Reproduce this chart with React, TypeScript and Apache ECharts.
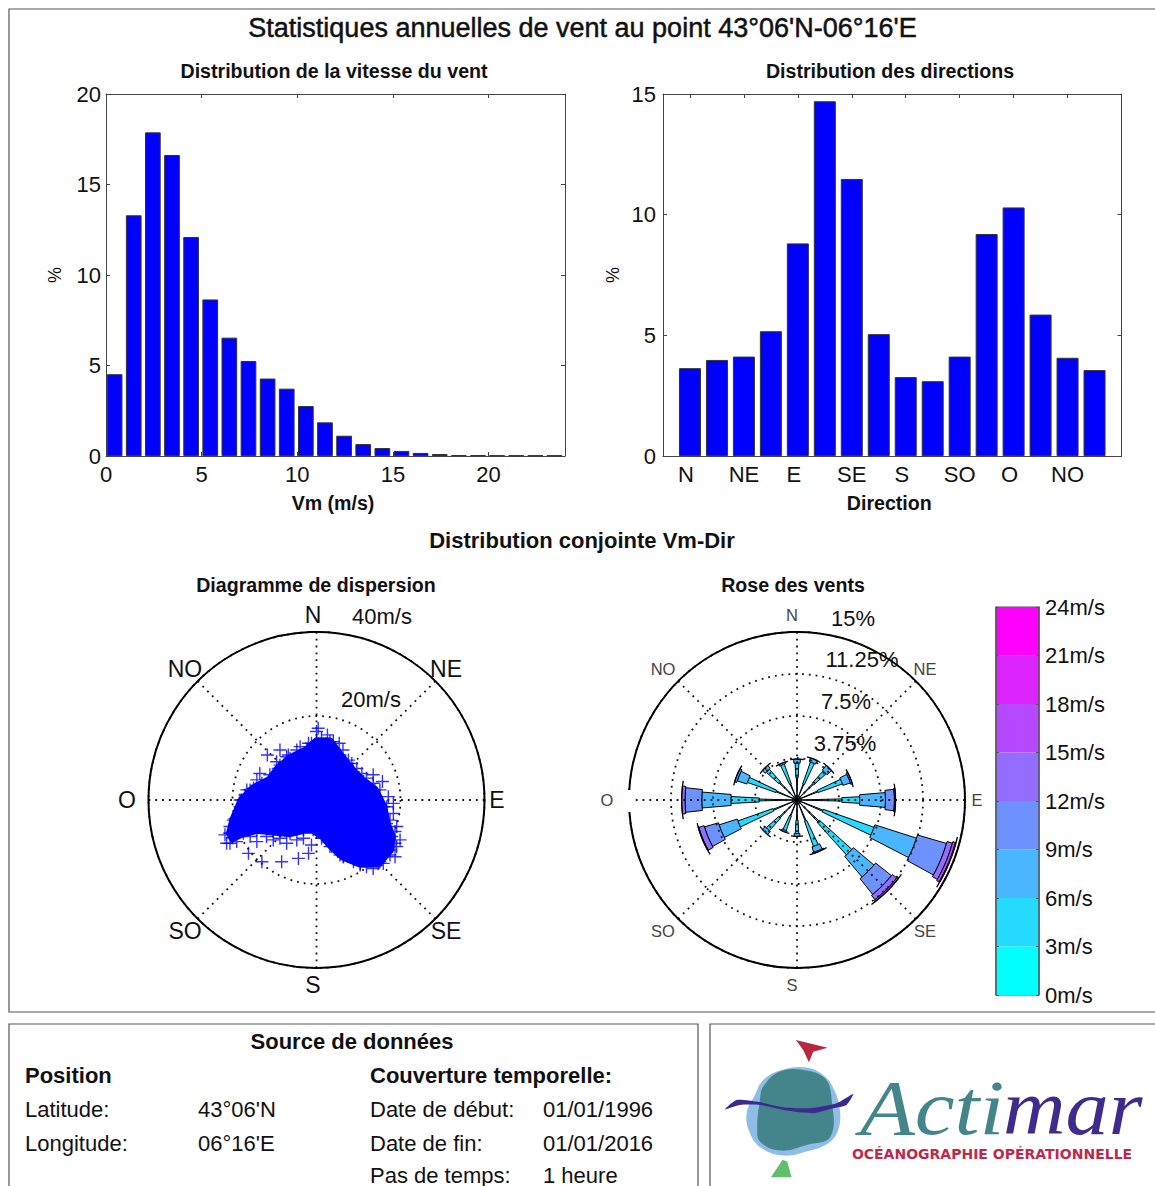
import React, { useEffect, useRef } from "react";
import * as echarts from "echarts";

const FONT = '"Liberation Sans"';
const AXIS = "#444";
const BLUE = "#0000ff";

const speedBins = [0.45, 1.45, 2.45, 3.45, 4.45, 5.45, 6.45, 7.45, 8.45, 9.45, 10.45, 11.45, 12.45, 13.45, 14.45, 15.45, 16.45, 17.45, 18.45, 19.45, 20.45, 21.45, 22.45, 23.45];
const speedPercent = [4.52, 13.3, 17.88, 16.63, 12.1, 8.65, 6.54, 5.25, 4.28, 3.72, 2.76, 1.86, 1.12, 0.66, 0.44, 0.28, 0.17, 0.11, 0.05, 0.04, 0.03, 0.03, 0.03, 0.03];
const dirIndex = [1, 2, 3, 4, 5, 6, 7, 8, 9, 10, 11, 12, 13, 14, 15, 16];
const dirPercent = [3.64, 3.98, 4.12, 5.17, 8.81, 14.7, 11.48, 5.05, 3.27, 3.1, 4.12, 9.2, 10.3, 5.86, 4.07, 3.56];
const dirTicks = [1, 3, 5, 7, 9, 11, 13, 15];
const dirTickLabels = ["N", "NE", "E", "SE", "S", "SO", "O", "NO"];

// outline of the dense cloud, [east, north] in m/s
const cloudOutline = [[0, 13.9], [3.2, 13.9], [5.6, 10.7], [8.8, 6.7], [11.2, 4.4], [13.9, 2.4], [15.9, -1.6], [16.7, -5.6], [17.9, -8.7], [17.5, -11.9], [14.7, -15.1], [10.4, -15.1], [6.4, -13.5], [3.6, -11], [1.6, -8.7], [-0.8, -7.1], [-3.1, -7.1], [-6.3, -7.9], [-10.3, -7.5], [-14.2, -7.1], [-17.4, -7.9], [-20, -9], [-20.6, -7.9], [-19.8, -4.8], [-17.8, 0], [-15, 2.8], [-11.1, 4.8], [-9.1, 7.5], [-6.3, 9.9], [-2.3, 11.9]];
// individual visible crosses, [east, north] in m/s
const cloudPoints = [[0.4, 17.1], [2.6, 15.5], [0, 16.3], [5.4, 13.5], [-1.9, 13.5], [-4.7, 11.9], [-8.7, 11.9], [-11.7, 10.7], [-9.5, 9.1], [-7.1, 10.3], [7.6, 9.5], [9.6, 7.5], [13.5, 6], [15.7, 4.4], [11.9, 5.2], [17.1, 0.8], [18.3, -0.8], [18.3, -3.2], [19.1, -6.3], [19.9, -9.5], [19.1, -11.1], [18.7, -13.5], [15.9, -15.1], [13.5, -16.3], [10.4, -15.5], [6.4, -13.5], [-21.8, -8.3], [-20.6, -10.3], [-14.2, -9.9], [-16.2, -12.7], [-13, -14.7], [-8.3, -14.7], [-4.3, -13.9], [-1.9, -12.7], [-1.2, -10.7], [-7.1, -10.3], [-10.3, -9.5], [-13.5, 6.3], [-14.2, 4.8], [-16.6, 2.4], [-18.2, 0], [-20.6, -6.3]];
const cloudEdgePoints = [[-20.6, -7.9], [-19.4, -4.4], [-18.2, -1.6], [-17, 1.2], [-15.8, 2.4], [-13, 4], [-11.1, 6], [-8.7, 8.3], [-6.7, 10.7], [-3.9, 12.7], [-1.2, 13.5], [1.2, 14.7], [4, 13.9], [6.3, 11.9], [8.4, 8.7], [10.8, 6.3], [13.5, 4], [15.1, 2.4], [16.7, -1.6], [17.5, -4.8], [18.7, -7.5], [18.7, -10.3], [17.5, -13.1], [15.1, -14.7], [11.9, -15.9], [8.8, -14.7], [5.6, -13.1], [3.2, -11.1], [1.2, -9.1], [-3.1, -9.1], [-4.7, -9.5], [-8.7, -9.1], [-11.9, -8.7], [-15.8, -8.7], [-19, -9.9], [-21.4, -10.3]];

// wind rose: direction (deg) and cumulated percentage at the end of each speed class
const roseDirections = [0, 22.5, 45, 67.5, 90, 112.5, 135, 157.5, 180, 202.5, 225, 247.5, 270, 292.5, 315, 337.5];
const roseCumul = [
  [2.0, 3.3, 3.65], [1.5, 3.6, 3.95], [2.0, 3.5, 4.05], [2.0, 4.3, 5.0, 5.15],
  [4.0, 5.6, 7.9, 8.7, 8.8], [2.5, 7.3, 11.2, 13.9, 14.4, 14.65, 14.7], [2.7, 6.6, 9.0, 10.8, 11.3, 11.45], [2.0, 4.4, 4.9, 5.0],
  [1.8, 3.0, 3.25], [1.5, 2.9, 3.05], [2.2, 3.7, 4.05], [2.3, 5.6, 7.3, 8.6, 9.1, 9.15],
  [3.35, 5.9, 8.5, 10.0, 10.3], [2.0, 4.7, 5.6, 5.8], [2.2, 3.7, 4.05], [1.5, 3.4, 3.55],
];
const classColors = ["#00ffff", "#24dbff", "#49b6ff", "#6d92ff", "#926dff", "#b649ff", "#db24ff", "#ff00ff"];
const classStep = [3, 3, 3, 3, 3, 3, 3, 3];
const classHalfAngle = [1.4, 3, 4.8, 6.3, 7, 7.5, 7.5, 7.5];
const CAP_HALF = 9.5;

const SCATTER_C = [316.5, 800];
const ROSE_C = [797, 800];
const R = 168;

const toPolar = ([e, n]: number[]) => {
  const a = (Math.atan2(e, n) * 180) / Math.PI;
  return [Math.hypot(e, n), a < 0 ? a + 360 : a];
};

const txt = (text: string, x: number, y: number, fontSize: number, extra: any = {}) => ({
  type: "text",
  x,
  y,
  silent: true,
  z: 20,
  style: {
    text,
    fontFamily: FONT,
    fontSize,
    fontWeight: extra.bold ? "bold" : "normal",
    fill: extra.fill || "#111",
    stroke: extra.stroke,
    lineWidth: extra.stroke ? 0.5 : 0,
    textAlign: extra.align || "center",
    textVerticalAlign: "middle",
  },
});

const boxAxisCommon = (min: number, max: number) => ({
  type: "value",
  min,
  max,
  splitLine: { show: false },
  axisLine: { show: true, onZero: false, lineStyle: { color: AXIS, width: 1 } },
  axisTick: { show: true, inside: true, length: 4, lineStyle: { color: AXIS } },
});

const tickLabel = { color: "#111", fontFamily: FONT, fontSize: 22 };
const nameStyle = { color: "#111", fontFamily: FONT, fontSize: 19.6, fontWeight: "bold" };
const percentStyle = { color: "#111", fontFamily: FONT, fontSize: 18 };

function buildOption() {
  const cloudPolar = cloudOutline.map(toPolar);
  const scatterData = [...cloudOutline, ...cloudPoints, ...cloudEdgePoints].map(toPolar);
  const roseRows: number[][] = [];
  const capRows: number[][] = [];
  roseDirections.forEach((dir, i) => {
    let r0 = 0;
    roseCumul[i].forEach((r1, band) => {
      roseRows.push([dir, band, r0, r1]);
      r0 = r1;
    });
    capRows.push([dir, r0]);
  });
  const arc = (api: any, dir: number, half: number, r: number, n = 6) => {
    const pts: number[][] = [];
    for (let k = 0; k <= n; k++) pts.push(api.coord([r, dir - half + (2 * half * k) / n]));
    return pts;
  };

  const polarAxes = (polarIndex: number, rMax: number, rStep: number, z: number) => ({
    angle: {
      polarIndex,
      type: "value",
      min: 0,
      max: 360,
      interval: 45,
      startAngle: 90,
      z,
      axisLabel: { show: false },
      axisTick: { show: false },
      axisLine: { show: true, lineStyle: { color: "#000", width: 2 } },
      splitLine: { show: true, lineStyle: { color: "#111", width: 1.8, type: [1.8, 5] } },
    },
    radius: {
      polarIndex,
      type: "value",
      min: 0,
      max: rMax,
      interval: rStep,
      z,
      axisLabel: { show: false },
      axisTick: { show: false },
      axisLine: { show: false },
      splitLine: { show: true, lineStyle: { color: "#111", width: 1.8, type: [1.8, 5] } },
    },
  });
  const pa = polarAxes(0, 40, 20, 0);
  const pb = polarAxes(1, 15, 3.75, 5);

  const logoShape = (points: number[][], fill: string, smooth = 0.4) => ({
    type: "polygon",
    silent: true,
    shape: { points, smooth },
    style: { fill },
  });

  return {
    animation: false,
    backgroundColor: "#fff",
    grid: [
      { left: 106, top: 94, width: 459, height: 362 },
      { left: 663, top: 94, width: 458.5, height: 362 },
      { left: 996, top: 607, width: 43, height: 388, show: true, borderColor: "#555", borderWidth: 1 },
    ],
    xAxis: [
      {
        ...boxAxisCommon(0, 24),
        gridIndex: 0,
        interval: 5,
        name: "Vm (m/s)",
        nameLocation: "middle",
        nameGap: 37,
        nameTextStyle: { ...nameStyle, padding: [0, 5, 0, 0] },
        axisLabel: { ...tickLabel, margin: 7, showMaxLabel: false, formatter: (v: number) => (v % 5 === 0 ? String(v) : "") },
      },
      { ...boxAxisCommon(0, 24), gridIndex: 0, position: "top", interval: 5, axisLabel: { show: false } },
      {
        ...boxAxisCommon(0, 17),
        gridIndex: 1,
        name: "Direction",
        nameLocation: "middle",
        nameGap: 37,
        nameTextStyle: { ...nameStyle, padding: [0, 6, 0, 0] },
        axisTick: { show: false },
        axisLabel: {
          ...tickLabel,
          margin: 7,
          customValues: dirTicks,
          formatter: (v: number) => {
            const s = dirTickLabels[dirTicks.indexOf(v)] || "";
            return s.length === 1 ? `{one|${s}}` : s;
          },
          rich: { one: { ...tickLabel, padding: [0, 8, 0, 0] } },
        },
      },
      {
        ...boxAxisCommon(0, 17),
        gridIndex: 1,
        position: "top",
        axisLabel: { show: false },
        axisTick: { show: true, inside: true, length: 4, customValues: dirTicks, lineStyle: { color: AXIS } },
      },
      { type: "category", gridIndex: 2, data: ["v"], show: false },
    ],
    yAxis: [
      {
        ...boxAxisCommon(0, 20),
        gridIndex: 0,
        interval: 5,
        name: "%",
        nameLocation: "middle",
        nameGap: 42,
        nameRotate: 90,
        nameTextStyle: percentStyle,
        axisLabel: { ...tickLabel, margin: 5 },
      },
      { ...boxAxisCommon(0, 20), gridIndex: 0, position: "right", interval: 5, axisLabel: { show: false } },
      {
        ...boxAxisCommon(0, 15),
        gridIndex: 1,
        interval: 5,
        name: "%",
        nameLocation: "middle",
        nameGap: 41,
        nameRotate: 90,
        nameTextStyle: percentStyle,
        axisLabel: { ...tickLabel, margin: 7 },
      },
      { ...boxAxisCommon(0, 15), gridIndex: 1, position: "right", interval: 5, axisLabel: { show: false } },
      {
        ...boxAxisCommon(0, 24),
        gridIndex: 2,
        position: "right",
        interval: 3,
        z: 5,
        axisLine: { show: true, lineStyle: { color: "#555", width: 1.5 } },
        axisTick: { show: true, inside: true, length: 3, lineStyle: { color: "#555" } },
        axisLabel: { ...tickLabel, margin: 6, formatter: (v: number) => `${v}m/s` },
      },
      {
        ...boxAxisCommon(0, 24),
        gridIndex: 2,
        position: "left",
        interval: 3,
        z: 5,
        axisLine: { show: true, lineStyle: { color: "#555", width: 1.5 } },
        axisTick: { show: true, inside: true, length: 3, lineStyle: { color: "#555" } },
        axisLabel: { show: false },
      },
    ],
    polar: [
      { center: SCATTER_C, radius: R },
      { center: ROSE_C, radius: R },
    ],
    angleAxis: [pa.angle, pb.angle],
    radiusAxis: [pa.radius, pb.radius],
    series: [
      {
        type: "bar",
        xAxisIndex: 0,
        yAxisIndex: 0,
        barWidth: 15.7,
        data: speedBins.map((x, i) => [x, speedPercent[i]]),
        itemStyle: { color: BLUE, borderColor: "#333", borderWidth: 1 },
      },
      {
        type: "bar",
        xAxisIndex: 2,
        yAxisIndex: 2,
        barWidth: 22,
        data: dirIndex.map((x, i) => [x, dirPercent[i]]),
        itemStyle: { color: BLUE, borderColor: "#333", borderWidth: 1 },
      },
      ...classColors.map((color, i) => ({
        type: "bar",
        xAxisIndex: 4,
        yAxisIndex: 4,
        stack: "legend",
        barWidth: "100%",
        silent: true,
        data: [classStep[i]],
        itemStyle: { color },
      })),
      {
        type: "custom",
        coordinateSystem: "polar",
        polarIndex: 0,
        silent: true,
        z: 2,
        data: [[0, 0]],
        encode: { radius: 0, angle: 1 },
        renderItem: (_: any, api: any) => ({
          type: "polygon",
          shape: { points: cloudPolar.map((p) => api.coord(p)) },
          style: { fill: BLUE, stroke: BLUE, lineWidth: 8, lineJoin: "round" },
        }),
      },
      {
        type: "scatter",
        coordinateSystem: "polar",
        polarIndex: 0,
        silent: true,
        z: 3,
        symbol: "path://M5.8 0H7.2V5.8H13V7.2H7.2V13H5.8V7.2H0V5.8H5.8Z",
        symbolSize: 13,
        itemStyle: { color: BLUE },
        data: scatterData,
      },
      {
        type: "custom",
        coordinateSystem: "polar",
        polarIndex: 1,
        silent: true,
        z: 2,
        data: roseRows,
        encode: { angle: 0, radius: 3 },
        renderItem: (_: any, api: any) => {
          const dir = api.value(0);
          const band = api.value(1);
          const half = classHalfAngle[band];
          const outer = arc(api, dir, half, api.value(3));
          const inner = arc(api, dir, half, api.value(2)).reverse();
          return {
            type: "polygon",
            shape: { points: [...outer, ...inner] },
            style: { fill: classColors[band], stroke: "#000", lineWidth: 1 },
          };
        },
      },
      {
        type: "custom",
        coordinateSystem: "polar",
        polarIndex: 1,
        silent: true,
        z: 3,
        data: capRows,
        encode: { angle: 0, radius: 1 },
        renderItem: (_: any, api: any) => ({
          type: "polyline",
          shape: { points: arc(api, api.value(0), CAP_HALF, api.value(1)) },
          style: { fill: "none", stroke: "#000", lineWidth: 1.3 },
        }),
      },
    ],
    graphic: [
      { type: "rect", silent: true, z: -1, shape: { x: 9, y: 9, width: 1160, height: 1003 }, style: { fill: "none", stroke: "#555", lineWidth: 1.2 } },
      { type: "rect", silent: true, z: -1, shape: { x: 9, y: 1024, width: 689, height: 180 }, style: { fill: "none", stroke: "#555", lineWidth: 1.2 } },
      { type: "rect", silent: true, z: -1, shape: { x: 710, y: 1024, width: 460, height: 180 }, style: { fill: "none", stroke: "#555", lineWidth: 1.2 } },
      { type: "rect", silent: true, z: 10, shape: { x: 625, y: 790, width: 6, height: 22 }, style: { fill: "#fff" } },

      txt("Statistiques annuelles de vent au point 43°06'N-06°16'E", 582.5, 28, 27, { stroke: "#111" }),
      txt("Distribution de la vitesse du vent", 334, 71, 19.6, { bold: true }),
      txt("Distribution des directions", 890, 71, 19.6, { bold: true }),
      txt("Distribution conjointe Vm-Dir", 582, 540, 22, { bold: true }),
      txt("Diagramme de dispersion", 316, 585, 19.6, { bold: true }),
      txt("Rose des vents", 793, 585, 19.6, { bold: true }),

      txt("N", 313, 615, 23),
      txt("NE", 446, 669, 23),
      txt("E", 497, 800, 23),
      txt("SE", 446, 931, 23),
      txt("S", 313, 985, 23),
      txt("SO", 185, 931, 23),
      txt("O", 127, 800, 23),
      txt("NO", 185, 669, 23),
      txt("40m/s", 382, 616, 22),
      txt("20m/s", 371, 699, 22),

      txt("N", 792, 615, 16.5, { fill: "#444" }),
      txt("NE", 925, 669, 16.5, { fill: "#444" }),
      txt("E", 977, 800, 16.5, { fill: "#444" }),
      txt("SE", 925, 931, 16.5, { fill: "#444" }),
      txt("S", 792, 985, 16.5, { fill: "#444" }),
      txt("SO", 663, 931, 16.5, { fill: "#444" }),
      txt("O", 607, 800, 16.5, { fill: "#444" }),
      txt("NO", 663, 669, 16.5, { fill: "#444" }),
      txt("15%", 853, 618, 22),
      txt("11.25%", 862, 659, 22),
      txt("7.5%", 846, 701, 22),
      txt("3.75%", 845, 743, 22),

      txt("Source de données", 352, 1041, 22, { bold: true }),
      txt("Position", 25, 1075, 22, { bold: true, align: "left" }),
      txt("Couverture temporelle:", 370, 1075, 22, { bold: true, align: "left" }),
      txt("Latitude:", 25, 1109, 22, { align: "left" }),
      txt("43°06'N", 198, 1109, 22, { align: "left" }),
      txt("Longitude:", 25, 1143, 22, { align: "left" }),
      txt("06°16'E", 198, 1143, 22, { align: "left" }),
      txt("Date de début:", 370, 1109, 22, { align: "left" }),
      txt("01/01/1996", 543, 1109, 22, { align: "left" }),
      txt("Date de fin:", 370, 1143, 22, { align: "left" }),
      txt("01/01/2016", 543, 1143, 22, { align: "left" }),
      txt("Pas de temps:", 370, 1175, 22, { align: "left" }),
      txt("1 heure", 543, 1175, 22, { align: "left" }),

      {
        type: "group",
        x: 700,
        y: 1020,
        scaleX: 1 / 3,
        scaleY: 1 / 3,
        silent: true,
        children: [
          logoShape([[288, 60], [383, 83], [340, 95], [327, 127], [310, 90]], "#b8273f", 0),
          logoShape([[245, 150], [320, 143], [375, 170], [405, 215], [420, 270], [415, 330], [385, 370], [320, 395], [250, 407], [185, 385], [150, 340], [140, 280], [165, 225], [190, 180]], "#8fbde6"),
          logoShape([[240, 155], [310, 150], [375, 175], [395, 235], [392, 350], [320, 375], [240, 392], [180, 365], [172, 320], [180, 240], [190, 200]], "#44858c"),
          logoShape([[75, 268], [110, 240], [170, 245], [250, 262], [330, 265], [410, 250], [460, 222], [440, 255], [400, 265], [340, 280], [260, 272], [180, 255], [120, 255]], "#3b2b8f", 0.2),
          logoShape([[248, 420], [262, 425], [275, 472], [213, 472]], "#5fbf6a", 0),
        ],
      },
      {
        type: "text", x: 860, y: 1108, scaleX: 1.15, silent: true, z: 20,
        style: { text: "Acti", fontFamily: '"Liberation Serif"', fontStyle: "italic", fontSize: 78, fill: "#44858c", textVerticalAlign: "middle" },
      },
      {
        type: "text", x: 1003, y: 1108, scaleX: 1.11, silent: true, z: 20,
        style: { text: "mar", fontFamily: '"Liberation Serif"', fontStyle: "italic", fontSize: 78, fill: "#3f2b8c", textVerticalAlign: "middle" },
      },
      {
        type: "text", x: 992, y: 1154, silent: true, z: 20,
        style: { text: "OCÉANOGRAPHIE OPÉRATIONNELLE", fontFamily: '"DejaVu Sans"', fontWeight: "bold", fontSize: 14, fill: "#c0284a", textAlign: "center", textVerticalAlign: "middle" },
      },
    ],
  };
}

export default function App() {
  const ref = useRef<HTMLDivElement>(null);
  useEffect(() => {
    document.body.style.margin = "0";
    const chart = echarts.init(ref.current!, undefined, { renderer: "svg" });
    chart.setOption(buildOption() as any);
    return () => chart.dispose();
  }, []);
  return <div ref={ref} style={{ width: 1155, height: 1186, overflow: "hidden" }} />;
}
